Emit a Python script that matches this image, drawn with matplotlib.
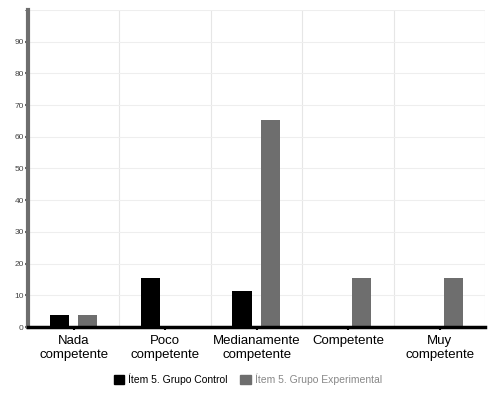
import matplotlib
matplotlib.use("Agg")
import matplotlib.pyplot as plt
import numpy as np
from matplotlib.patches import Patch

plt.rcParams["font.family"] = ["Liberation Sans", "DejaVu Sans"]

categories = ["Nada\ncompetente", "Poco\ncompetente", "Medianamente\ncompetente", "Competente", "Muy\ncompetente"]
control = [3.8, 15.4, 11.5, 0, 0]
experimental = [3.8, 0, 65.4, 15.4, 15.4]
series_names = ["Ítem 5. Grupo Control", "Ítem 5. Grupo Experimental"]
yticks = [0, 10, 20, 30, 40, 50, 60, 70, 80, 90]

fig = plt.figure(figsize=(4.96, 3.95), dpi=100)
ax = fig.add_axes([0.0565, 0.172, 0.922, 0.803])

x = np.arange(len(categories))
w = 0.21
ax.bar(x - 0.16, control, w, color="black", zorder=3)
ax.bar(x + 0.15, experimental, w, color="#6e6e6e", zorder=3)

ax.set_xlim(-0.5, len(categories) - 0.5)
ax.set_ylim(0, 100)
ax.set_yticks(yticks)
ax.set_yticklabels([str(t) for t in yticks], fontsize=6, color="#444444")
ax.set_xticks(x)
ax.set_xticklabels(categories, fontsize=9.5, color="black", linespacing=1.15)
ax.tick_params(axis="y", length=2, width=1.5, color="#666666", pad=1)
ax.tick_params(axis="x", length=2, width=1.5, color="black", pad=4)

ax.set_xticks(np.arange(len(categories) + 1) - 0.5, minor=True)
ax.grid(True, which="minor", axis="x", color="#e6e6e6", lw=0.8, zorder=0)
ax.tick_params(axis="x", which="minor", length=0)
ax.set_yticks(np.arange(0, 101, 10), minor=True)
ax.grid(True, which="major", axis="y", color="#eeeeee", lw=0.8, zorder=0)
ax.grid(True, which="minor", axis="y", color="#eeeeee", lw=0.8, zorder=0)

for s in ["top", "right"]:
    ax.spines[s].set_visible(False)
ax.spines["left"].set_color("#6e6e6e")
ax.spines["left"].set_linewidth(3)
ax.spines["bottom"].set_color("black")
ax.spines["bottom"].set_linewidth(2.5)
ax.spines["bottom"].set_zorder(4)

handles = [Patch(facecolor="black", edgecolor="black"), Patch(facecolor="#6e6e6e", edgecolor="#6e6e6e")]
leg = fig.legend(handles, series_names, loc="center", bbox_to_anchor=(0.5, 0.04), ncol=2,
                 frameon=False, fontsize=7.5, handlelength=1.0, handleheight=1.0,
                 handletextpad=0.4, columnspacing=1.2)
leg.get_texts()[0].set_color("black")
leg.get_texts()[1].set_color("#888888")

fig.savefig("out.png", dpi=100)
